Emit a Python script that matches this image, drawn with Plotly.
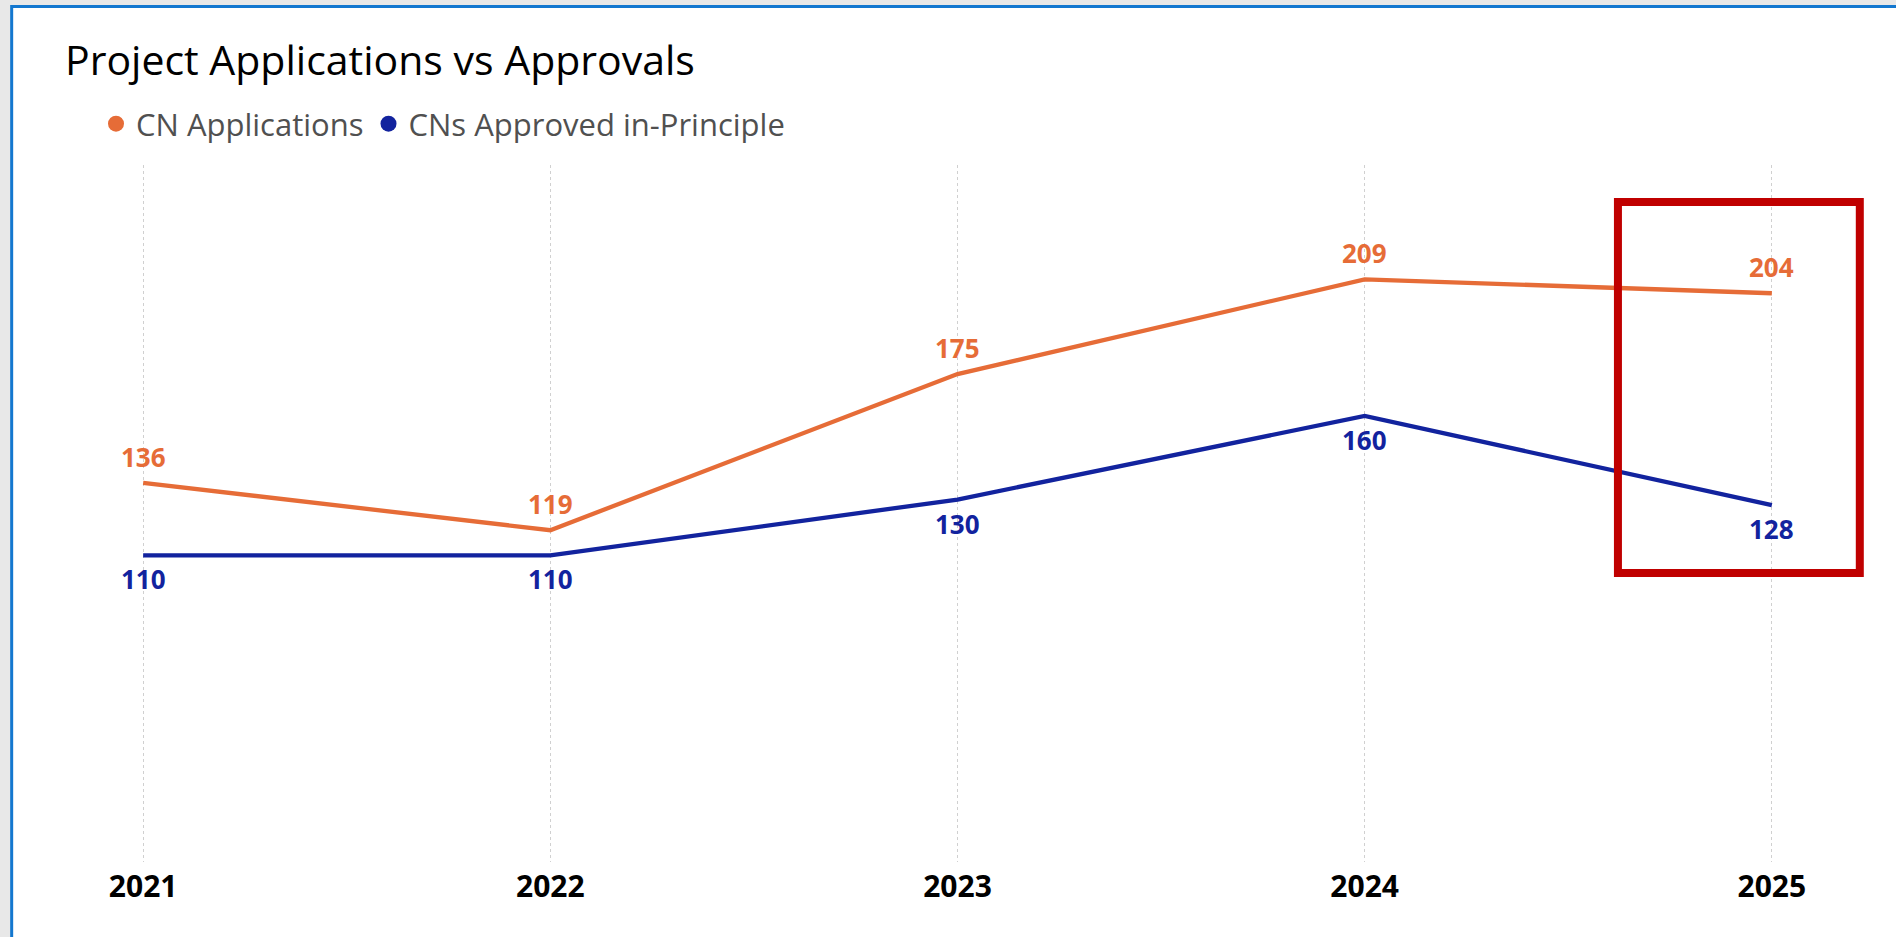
import plotly.graph_objects as go

# ---- data ----
years = [2021, 2022, 2023, 2024, 2025]
applications = [136, 119, 175, 209, 204]
approved = [110, 110, 130, 160, 128]
series_names = ["CN Applications", "CNs Approved in-Principle"]
title_text = "Project Applications vs Approvals"
year_labels = ["2021", "2022", "2023", "2024", "2025"]

ORANGE = "#E66C37"
BLUE = "#12239E"
FONT = "Open Sans"

# ---- layout geometry (pixels) ----
W, H = 1896, 937
x_first_px, x_last_px = 143, 1772
ppy = (x_last_px - x_first_px) / (years[-1] - years[0])
pad_years = 0.3
x_range = [years[0] - pad_years, years[-1] + pad_years]
m_l = x_first_px - pad_years * ppy
m_r = W - (x_last_px + pad_years * ppy)
m_t, m_b = 165, H - 862
plot_w = W - m_l - m_r
plot_h = H - m_t - m_b


def px_x(p):
    return (p - m_l) / plot_w


def px_y(p):
    return (H - m_b - p) / plot_h


fig = go.Figure()

fig.add_trace(go.Scatter(x=years, y=applications, mode="lines", name=series_names[0],
                         line=dict(color=ORANGE, width=4.3), showlegend=False, hoverinfo="x+y"))
fig.add_trace(go.Scatter(x=years, y=approved, mode="lines", name=series_names[1],
                         line=dict(color=BLUE, width=4.3), showlegend=False, hoverinfo="x+y"))
# legend-only dot entries
for nm, col in zip(series_names, [ORANGE, BLUE]):
    fig.add_trace(go.Scatter(x=[None], y=[None], mode="markers", name=nm,
                             marker=dict(color=col, size=17), showlegend=True))

annotations = []
for x, v in zip(years, applications):
    annotations.append(dict(x=x, y=v, xref="x", yref="y", text=str(v), showarrow=False,
                            yshift=26, yanchor="middle",
                            font=dict(family=FONT, size=26, color=ORANGE, weight="bold")))
for x, v in zip(years, approved):
    annotations.append(dict(x=x, y=v, xref="x", yref="y", text=str(v), showarrow=False,
                            yshift=-24, yanchor="middle",
                            font=dict(family=FONT, size=26, color=BLUE, weight="bold")))

shapes = [
    # blue frame of the visual container (top & left edges)
    dict(type="rect", xref="paper", yref="paper", layer="below",
         x0=px_x(10), x1=px_x(W + 20), y0=px_y(5), y1=px_y(H + 20),
         fillcolor="#1377CF", line=dict(width=0)),
    dict(type="rect", xref="paper", yref="paper", layer="below",
         x0=px_x(13), x1=px_x(W + 20), y0=px_y(8), y1=px_y(H + 20),
         fillcolor="white", line=dict(width=0)),
    # red highlight box around the 2025 values
    dict(type="rect", xref="x", yref="y", layer="above",
         x0=years[-1] - 0.378, x1=years[-1] + 0.216, y0=103.7, y1=236.7,
         line=dict(color="#C00000", width=8), fillcolor="rgba(0,0,0,0)"),
]

fig.update_layout(
    width=W, height=H,
    paper_bgcolor="#E8E8E8",
    plot_bgcolor="rgba(0,0,0,0)",
    margin=dict(l=m_l, r=m_r, t=m_t, b=m_b, pad=0),
    title=dict(text=title_text, x=65 / W, xanchor="left", xref="container",
               y=1 - 61 / H, yanchor="middle", yref="container",
               font=dict(family=FONT, size=41, color="#000000")),
    legend=dict(orientation="h", xref="container", yref="container",
                x=96 / W, xanchor="left", y=1 - 124 / H, yanchor="middle",
                font=dict(family=FONT, size=31, color="#505050"),
                bgcolor="rgba(0,0,0,0)", itemwidth=30, tracegroupgap=0),
    xaxis=dict(range=x_range, tickmode="array", tickvals=years, ticktext=year_labels,
               showgrid=True, gridcolor="#D0D0D0", griddash="dot", gridwidth=1,
               zeroline=False, showline=False, ticks="", ticklabelstandoff=4,
               tickfont=dict(family=FONT, size=30, color="#000000", weight="bold"),
               automargin=False, fixedrange=True),
    yaxis=dict(range=[0, 250], showgrid=False, zeroline=False, showticklabels=False,
               showline=False, ticks="", automargin=False, fixedrange=True),
    annotations=annotations,
    shapes=shapes,
    showlegend=True,
)

fig.write_html(
    "out.html",
    config={"displayModeBar": False},
    post_script="document.body.style.margin='0';document.body.style.overflow='hidden';",
)
